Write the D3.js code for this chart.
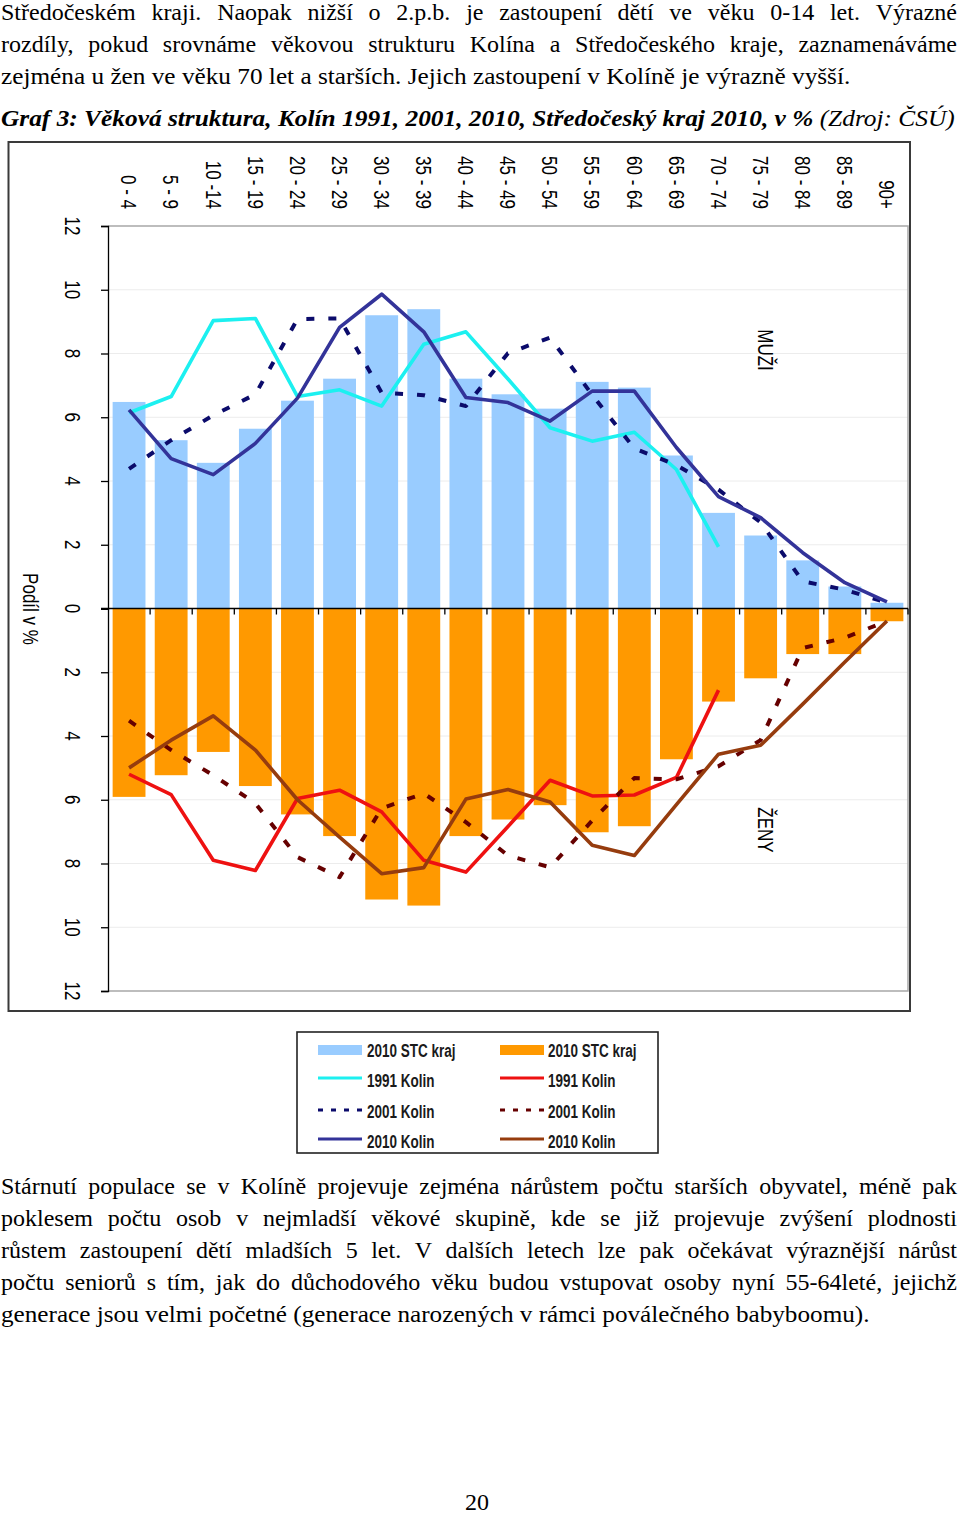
<!DOCTYPE html>
<html><head><meta charset="utf-8">
<script src="https://cdn.jsdelivr.net/npm/d3@7"></script>
<style>body{margin:0;background:#fff}svg{display:block}</style>
</head><body>
<svg id="page" width="960" height="1515"></svg>
<script>
// ---------- DATA ----------
const categories = ["0 - 4","5 - 9","10 -14","15 - 19","20 - 24","25 - 29","30 - 34","35 - 39","40 - 44","45 - 49","50 - 54","55 - 59","60 - 64","65 - 69","70 - 74","75 - 79","80 - 84","85 - 89","90+"];
const menSTC2010   = [6.48,5.28,4.57,5.64,6.52,7.21,9.20,9.39,7.21,6.72,6.27,7.11,6.93,4.80,3.00,2.29,1.51,0.69,0.18];
const womenSTC2010 = [5.91,5.23,4.50,5.57,6.46,7.14,9.13,9.32,7.14,6.62,6.17,7.02,6.83,4.73,2.92,2.19,1.43,1.43,0.40];
const men1991   = [6.14,6.65,9.03,9.10,6.65,6.86,6.35,8.29,8.68,7.20,5.67,5.25,5.53,4.36,1.93];
const men2001   = [4.38,5.28,6.06,6.72,9.08,9.10,6.77,6.69,6.35,8.01,8.50,6.70,5.02,4.50,3.73,2.70,0.85,0.59,0.18];
const men2010   = [6.23,4.70,4.20,5.18,6.60,8.82,9.86,8.68,6.62,6.46,5.88,6.82,6.82,5.05,3.51,2.85,1.75,0.81,0.21];
const women1991 = [5.20,5.84,7.90,8.22,5.96,5.70,6.38,7.90,8.27,6.84,5.39,5.88,5.85,5.30,2.56];
const women2001 = [3.52,4.44,5.23,6.11,7.80,8.43,6.27,5.80,6.70,7.75,8.12,6.65,5.32,5.36,4.95,4.13,1.24,0.92,0.39];
const women2010 = [5.00,4.13,3.37,4.44,6.00,7.17,8.32,8.13,5.98,5.68,6.07,7.43,7.75,6.15,4.57,4.29,3.00,1.68,0.39];
const yTicks = [0,2,4,6,8,10,12];
const legendLeft  = ["2010 STC kraj","1991 Kolin","2001 Kolin","2010 Kolin"];
const legendRight = ["2010 STC kraj","1991 Kolin","2001 Kolin","2010 Kolin"];

const topLines = [
 "Středočeském kraji. Naopak nižší o 2.p.b. je zastoupení dětí ve věku 0-14 let. Výrazné",
 "rozdíly, pokud srovnáme věkovou strukturu Kolína a Středočeského kraje, zaznamenáváme",
 "zejména u žen ve věku 70 let a starších. Jejich zastoupení v Kolíně je výrazně vyšší."
];
const bottomLines = [
 "Stárnutí populace se v Kolíně projevuje zejména nárůstem počtu starších obyvatel, méně pak",
 "poklesem počtu osob v nejmladší věkové skupině, kde se již projevuje zvýšení plodnosti",
 "růstem zastoupení dětí mladších 5 let. V dalších letech lze pak očekávat výraznější nárůst",
 "počtu seniorů s tím, jak do důchodového věku budou vstupovat osoby nyní 55-64leté, jejichž",
 "generace jsou velmi početné (generace narozených v rámci poválečného babyboomu)."
];

// ---------- SETUP ----------
const svg = d3.select('#page');
svg.append('rect').attr('width',960).attr('height',1515).attr('fill','#fff');
const serif = "'Liberation Serif','Times New Roman',serif";
const sans = "'Liberation Sans',Arial,sans-serif";
const FS = 24;

function justify(str, y, x0, width) {
  const words = str.split(' ');
  const t = svg.append('text').attr('y', y).style('font-family', serif).style('font-size', FS+'px').attr('fill','#000');
  const spans = words.map(w => t.append('tspan').text(w));
  const widths = spans.map(s => s.node().getComputedTextLength());
  const sum = d3.sum(widths);
  let gap = (width - sum) / (words.length - 1);
  let s = 1;
  if (gap < 4.5) { s = width / (sum + 4.5*(words.length-1)); gap = 4.5; }
  let cx = 0;
  spans.forEach((sp,i) => { sp.attr('x', cx); cx += widths[i] + gap; });
  t.attr('transform', `translate(${x0},0) scale(${s},1)`);
}
function plainLine(str, y, x0, width) {
  const t = svg.append('text').attr('y', y).style('font-family', serif).style('font-size', FS+'px').attr('fill','#000').text(str);
  const w = t.node().getComputedTextLength();
  t.attr('transform', `translate(${x0},0) scale(${width/w},1)`);
}

// top paragraph
justify(topLines[0], 20, 1, 956);
justify(topLines[1], 52, 1, 956);
plainLine(topLines[2], 84, 1, 850);

// heading
{
  const t = svg.append('text').attr('y', 126).style('font-family', serif).style('font-size', FS+'px').style('font-style','italic').attr('fill','#000');
  t.append('tspan').style('font-weight','bold').text("Graf 3: Věková struktura, Kolín 1991, 2001, 2010, Středočeský kraj 2010, v % ");
  t.append('tspan').text("(Zdroj: ČSÚ)");
  const w = t.node().getComputedTextLength();
  t.attr('transform', `translate(1,0) scale(${954/w},1)`);
}

// bottom paragraph
bottomLines.forEach((l,i) => {
  const y = 1194 + i*32;
  if (i < 4) justify(l, y, 1, 956); else plainLine(l, y, 1, 869);
});
svg.append('text').attr('x', 477).attr('y', 1510).attr('text-anchor','middle')
  .style('font-family', serif).style('font-size', FS+'px').text('20');

// ---------- CHART ----------
const SX = 1.3;
svg.append('rect').attr('x', 8.5).attr('y', 142).attr('width', 901.5).attr('height', 869)
  .attr('fill','#fff').attr('stroke','#3a3a3a').attr('stroke-width',2);

const x = d3.scaleBand().domain(categories).range([108, 908]).paddingInner(0.22).paddingOuter(0.11);
const yM = d3.scaleLinear().domain([0,12]).range([608.5, 226]);
const yF = d3.scaleLinear().domain([0,12]).range([608.5, 991]);
const cx = c => x(c) + x.bandwidth()/2;

// gridlines
const grid = yTicks.filter(v => v > 0 && v < 12);
svg.append('g').selectAll('line.gm').data(grid).join('line')
  .attr('x1',108).attr('x2',908).attr('y1',d=>yM(d)).attr('y2',d=>yM(d)).attr('stroke','#ececec').attr('stroke-width',1);
svg.append('g').selectAll('line.gf').data(grid).join('line')
  .attr('x1',108).attr('x2',908).attr('y1',d=>yF(d)).attr('y2',d=>yF(d)).attr('stroke','#ececec').attr('stroke-width',1);

// plot border (top, right, bottom)
svg.append('path').attr('d', `M108,${yM(12)}H908V${yF(12)}H108`).attr('fill','none').attr('stroke','#a8a8a8').attr('stroke-width',1.5);

// bars
svg.append('g').selectAll('rect').data(menSTC2010).join('rect')
  .attr('x',(d,i)=>x(categories[i])).attr('width', x.bandwidth())
  .attr('y', d=>yM(d)).attr('height', d=>yM(0)-yM(d)).attr('fill','#99CCFF');
svg.append('g').selectAll('rect').data(womenSTC2010).join('rect')
  .attr('x',(d,i)=>x(categories[i])).attr('width', x.bandwidth())
  .attr('y', yF(0)).attr('height', d=>yF(d)-yF(0)).attr('fill','#FF9900');

// value axis
svg.append('g').attr('transform','translate(108,0)')
  .call(d3.axisLeft(yM).tickValues(yTicks).tickSize(7).tickFormat(''))
  .call(g => g.selectAll('line,path').attr('stroke','#000').attr('stroke-width',1.3));
svg.append('g').attr('transform','translate(108,0)')
  .call(d3.axisLeft(yF).tickValues(yTicks).tickSize(7).tickFormat(''))
  .call(g => g.selectAll('line,path').attr('stroke','#000').attr('stroke-width',1.3));

// category axis at zero
const step = x.step();
const bounds = d3.range(1, categories.length + 1).map(k => 108 + k*step);
svg.append('line').attr('x1',101).attr('x2',908).attr('y1',yM(0)).attr('y2',yM(0)).attr('stroke','#000').attr('stroke-width',1.3);
svg.append('g').selectAll('line').data(bounds).join('line')
  .attr('x1',d=>d).attr('x2',d=>d).attr('y1',yM(0)).attr('y2',yM(0)+6).attr('stroke','#000').attr('stroke-width',1.3);

function vtext(px, py, str, anchor, size) {
  return svg.append('text').attr('transform', `translate(${px},${py}) scale(${SX},1) rotate(90)`)
    .attr('text-anchor', anchor).attr('dy','0.35em')
    .style('font-family', sans).style('font-size', size+'px').attr('fill','#000').text(str);
}
// tick labels
yTicks.forEach(v => {
  vtext(72.5, yM(v), String(v), 'middle', 17);
  if (v > 0) vtext(72.5, yF(v), String(v), 'middle', 17);
});
// category labels
categories.forEach(c => vtext(cx(c), 209, c, 'end', 17));
// axis title & annotations
vtext(31, 609, 'Podíl v %', 'middle', 17);
vtext(766, 350, 'MUŽI', 'middle', 17);
vtext(766, 830, 'ŽENY', 'middle', 17);

// lines
function drawLine(data, yS, color, width, dash) {
  const line = d3.line().x((d,i)=>cx(categories[i])).y(d=>yS(d));
  svg.append('path').datum(data).attr('d', line).attr('fill','none')
    .attr('stroke', color).attr('stroke-width', width)
    .attr('stroke-linejoin','round')
    .attr('stroke-dasharray', dash || null);
}
drawLine(men1991, yM, '#1CF0F0', 3.6);
drawLine(men2001, yM, '#0B0B6B', 4, '8,14');
drawLine(men2010, yM, '#333399', 3.6);
drawLine(women1991, yF, '#EE1111', 3.6);
drawLine(women2001, yF, '#660000', 4, '8,14');
drawLine(women2010, yF, '#963C0E', 3.6);

// ---------- LEGEND ----------
svg.append('rect').attr('x',297).attr('y',1032).attr('width',361).attr('height',121)
  .attr('fill','#fff').attr('stroke','#222').attr('stroke-width',1.6);
const rowsY = [1050, 1078, 1110, 1139];
const baseY = [1057, 1087, 1118, 1148];
const legStyles = [
  [{type:'bar', color:'#99CCFF'}, {type:'line', color:'#1CF0F0'}, {type:'line', color:'#0B0B6B', dash:'5,8'}, {type:'line', color:'#333399'}],
  [{type:'bar', color:'#FF9900'}, {type:'line', color:'#EE1111'}, {type:'line', color:'#660000', dash:'5,8'}, {type:'line', color:'#963C0E'}]
];
[[legendLeft, 318, 367],[legendRight, 500, 548]].forEach(([labels, sx, tx], col) => {
  labels.forEach((lab, i) => {
    const st = legStyles[col][i];
    if (st.type === 'bar') {
      svg.append('rect').attr('x', sx).attr('y', rowsY[i]-5).attr('width', 44).attr('height', 10).attr('fill', st.color);
    } else {
      svg.append('line').attr('x1', sx).attr('x2', sx+44).attr('y1', rowsY[i]).attr('y2', rowsY[i])
        .attr('stroke', st.color).attr('stroke-width', 3).attr('stroke-dasharray', st.dash || null);
    }
    svg.append('text').attr('transform', `translate(${tx},${baseY[i]}) scale(1,1.33)`)
      .style('font-family', sans).style('font-weight','bold').style('font-size','13.5px').attr('fill','#1a1a1a').text(lab);
  });
});
</script>
</body></html>
